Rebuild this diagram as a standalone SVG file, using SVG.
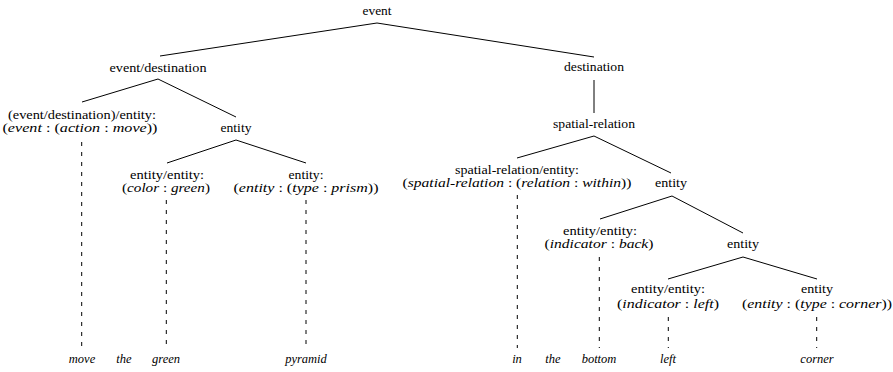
<svg xmlns="http://www.w3.org/2000/svg" width="893" height="372" viewBox="0 0 893 372">
  <style>
    text { font-family: "Liberation Serif", "DejaVu Serif", serif; font-size: 11.5px; fill: #000; text-anchor: middle; }
    .m { font-style: italic; }
    .leaf { font-style: italic; font-size: 12.5px; }
    .edge { stroke: #000; stroke-width: 1; fill: none; }
    .anchor { stroke: #000; stroke-width: 1; fill: none; stroke-dasharray: 4 6; }
  </style>
  <rect width="893" height="372" fill="#fff"/>

  <!-- tree edges and dashed word anchors -->
  <g id="connectors">
    <line class="edge" x1="377" y1="23" x2="160" y2="56"/>
    <line class="edge" x1="377" y1="23" x2="594" y2="57"/>
    <line class="edge" x1="158" y1="79" x2="82" y2="102"/>
    <line class="edge" x1="158" y1="79" x2="236" y2="117"/>
    <line class="edge" x1="236" y1="140" x2="167" y2="163"/>
    <line class="edge" x1="236" y1="140" x2="306" y2="163"/>
    <line class="edge" x1="594" y1="80" x2="594" y2="113"/>
    <line class="edge" x1="594" y1="136" x2="517" y2="158"/>
    <line class="edge" x1="594" y1="136" x2="671" y2="173"/>
    <line class="edge" x1="672" y1="196" x2="600" y2="219"/>
    <line class="edge" x1="672" y1="196" x2="743" y2="233"/>
    <line class="edge" x1="743" y1="257" x2="668" y2="279"/>
    <line class="edge" x1="743" y1="257" x2="817" y2="279"/>

    <line class="anchor" x1="81.7" y1="142" x2="81.7" y2="346"/>
    <line class="anchor" x1="166.3" y1="200" x2="166.3" y2="350"/>
    <line class="anchor" x1="306" y1="200" x2="306" y2="350"/>
    <line class="anchor" x1="517.3" y1="195" x2="517.3" y2="348"/>
    <line class="anchor" x1="599.3" y1="257" x2="599.3" y2="348"/>
    <line class="anchor" x1="668.3" y1="317" x2="668.3" y2="348"/>
    <line class="anchor" x1="816.7" y1="317" x2="816.7" y2="348"/>
  </g>

  <!-- tree nodes -->
  <g id="n-event"><text x="377" y="15" textLength="29" lengthAdjust="spacingAndGlyphs">event</text></g>
  <g id="n-event-destination"><text x="158" y="72" textLength="97" lengthAdjust="spacingAndGlyphs">event/destination</text></g>
  <g id="n-destination"><text x="594" y="71" textLength="60" lengthAdjust="spacingAndGlyphs">destination</text></g>
  <g id="n-move-sem">
    <text x="82" y="118.7" textLength="148" lengthAdjust="spacingAndGlyphs">(event/destination)/entity:</text>
    <text x="80" y="131.6" textLength="155" lengthAdjust="spacingAndGlyphs">(<tspan class="m">event</tspan> : (<tspan class="m">action</tspan> : <tspan class="m">move</tspan>))</text>
  </g>
  <g id="n-entity-1"><text x="236" y="131.6" textLength="31" lengthAdjust="spacingAndGlyphs">entity</text></g>
  <g id="n-spatial-relation"><text x="594" y="127.5" textLength="82" lengthAdjust="spacingAndGlyphs">spatial-relation</text></g>
  <g id="n-green-sem">
    <text x="167" y="178.7" textLength="74" lengthAdjust="spacingAndGlyphs">entity/entity:</text>
    <text x="166" y="191.6" textLength="88" lengthAdjust="spacingAndGlyphs">(<tspan class="m">color</tspan> : <tspan class="m">green</tspan>)</text>
  </g>
  <g id="n-prism-sem">
    <text x="306" y="178.7" textLength="35" lengthAdjust="spacingAndGlyphs">entity:</text>
    <text x="306" y="191.6" textLength="145" lengthAdjust="spacingAndGlyphs">(<tspan class="m">entity</tspan> : (<tspan class="m">type</tspan> : <tspan class="m">prism</tspan>))</text>
  </g>
  <g id="n-within-sem">
    <text x="517" y="174" textLength="124" lengthAdjust="spacingAndGlyphs">spatial-relation/entity:</text>
    <text x="517" y="187" textLength="229" lengthAdjust="spacingAndGlyphs">(<tspan class="m">spatial-relation</tspan> : (<tspan class="m">relation</tspan> : <tspan class="m">within</tspan>))</text>
  </g>
  <g id="n-entity-2"><text x="671" y="187" textLength="32" lengthAdjust="spacingAndGlyphs">entity</text></g>
  <g id="n-back-sem">
    <text x="600" y="235" textLength="74" lengthAdjust="spacingAndGlyphs">entity/entity:</text>
    <text x="599" y="248" textLength="109" lengthAdjust="spacingAndGlyphs">(<tspan class="m">indicator</tspan> : <tspan class="m">back</tspan>)</text>
  </g>
  <g id="n-entity-3"><text x="743" y="248" textLength="32" lengthAdjust="spacingAndGlyphs">entity</text></g>
  <g id="n-left-sem">
    <text x="668" y="293" textLength="74" lengthAdjust="spacingAndGlyphs">entity/entity:</text>
    <text x="668" y="308" textLength="102" lengthAdjust="spacingAndGlyphs">(<tspan class="m">indicator</tspan> : <tspan class="m">left</tspan>)</text>
  </g>
  <g id="n-corner-sem">
    <text x="817" y="293" textLength="32" lengthAdjust="spacingAndGlyphs">entity</text>
    <text x="817" y="308" textLength="150" lengthAdjust="spacingAndGlyphs">(<tspan class="m">entity</tspan> : (<tspan class="m">type</tspan> : <tspan class="m">corner</tspan>))</text>
  </g>

  <!-- words of the sentence -->
  <g id="words">
    <text class="leaf" x="82" y="363">move</text>
    <text class="leaf" x="124" y="363">the</text>
    <text class="leaf" x="166" y="363">green</text>
    <text class="leaf" x="306" y="363">pyramid</text>
    <text class="leaf" x="517" y="363">in</text>
    <text class="leaf" x="553" y="363">the</text>
    <text class="leaf" x="599" y="363">bottom</text>
    <text class="leaf" x="668" y="363">left</text>
    <text class="leaf" x="817" y="363">corner</text>
  </g>
</svg>
